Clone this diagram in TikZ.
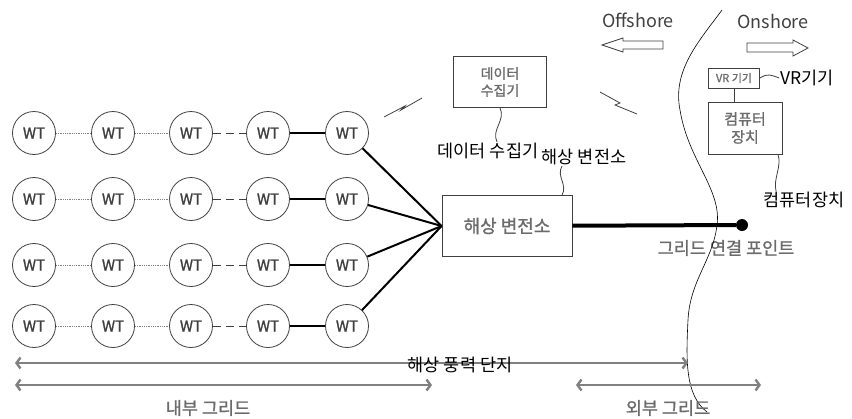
\documentclass[tikz,border=0pt]{standalone}
\usepackage{fontspec}
\setmainfont{Noto Sans CJK KR}
\newfontfamily\heavy[FakeBold=1.2]{Noto Sans CJK KR}
\usetikzlibrary{arrows.meta}
\definecolor{ink}{gray}{0.25}
\definecolor{faint}{gray}{0.42}
\begin{document}
\begin{tikzpicture}[x=1pt,y=-1pt,
    wt/.style={circle,draw=ink,thick,minimum size=43pt,inner sep=0pt,text=ink,font=\heavy\fontsize{15}{15}\selectfont},
    box/.style={draw=ink,thick,align=center,text=faint,inner sep=0pt},
    glabel/.style={text=faint,font=\heavy\fontsize{17.5}{20}\selectfont},
    blabel/.style={text=black,font=\fontsize{17.5}{20}\selectfont,inner sep=1pt},
    weak/.style={gray,thick,densely dotted},
    gap/.style={ink,thick,dash pattern=on 8pt off 5pt},
    cable/.style={black,line width=2pt},
    dimline/.style={{Straight Barb[length=4pt,width=11pt]}-{Straight Barb[length=4pt,width=11pt]},gray,line width=2.4pt},
    wire/.style={ink,thick}]
  \useasboundingbox (0,0) rectangle (852,418);
  % turbines
  \foreach \rw/\yy in {1/133,2/199,3/265,4/326}
    \foreach \cl/\xx in {1/34,2/113,3/191,4/268,5/347}
      \node[wt] (wt\rw\cl) at (\xx,\yy) {WT};
  % substation and grid point
  \node[box,minimum width=130pt,minimum height=61pt,font=\heavy\fontsize{18}{20}\selectfont] (sub) at (507,226) {해상 변전소};
  \node[circle,fill=black,inner sep=0pt,minimum size=12pt] (gcp) at (742,225) {};
  \draw[line width=4pt] (sub) -- (gcp);
  \node[glabel] (gcplabel) at (726,248) {그리드 연결 포인트};
  \foreach \rw in {1,...,4} {
    \draw[weak] (wt\rw1) -- (wt\rw2);
    \draw[weak] (wt\rw2) -- (wt\rw3);
    \draw[gap] (wt\rw3) -- (wt\rw4);
    \draw[cable] (wt\rw4) -- (wt\rw5);
    \draw[cable] (wt\rw5) -- (sub.west);
  }
  % data collector
  \node[box,minimum width=93pt,minimum height=51pt,font=\heavy\fontsize{14}{17}\selectfont] (dc) at (500,82) {데이터\\수집기};
  \node[blabel] (dclabel) at (488,151) {데이터 수집기};
  \draw[wire] (dc.south) .. controls +(6,12) and +(-6,-12) .. ([xshift=9pt]dclabel.north);
  \node[blabel] (sublabel) at (584,157) {해상 변전소};
  \draw[wire] ([xshift=55pt]sub.north) .. controls +(6,-10) and +(-6,10) .. ([xshift=-22pt]sublabel.south);
  % wireless links
  \draw[wire] (384,117) -- (405,106) -- (401,110) -- (422,98);
  \draw[wire] (600,92) -- (620,103) -- (615,105) -- (637,114);
  % shore
  \node[text=ink,font=\fontsize{18}{20}\selectfont] (off) at (638,20) {Offshore};
  \node[text=ink,font=\fontsize{18}{20}\selectfont] (on) at (773,21) {Onshore};
  \draw[ink,thick] (663,41) -- (623,41) -- (623,38) -- (602,45) -- (623,52) -- (623,49) -- (663,49) -- cycle;
  \draw[ink,thick] (747,43) -- (793,43) -- (793,40) -- (808,48) -- (793,56) -- (793,52) -- (747,52) -- cycle;
  \draw[black,semithick] (722,10) .. controls (700,40) and (672,70) .. (680,110)
    .. controls (688,160) and (722,190) .. (717,225)
    .. controls (713,260) and (690,280) .. (688,320)
    .. controls (686,360) and (685,395) .. (707,412);
  % onshore devices
  \node[box,minimum width=51pt,minimum height=20pt,font=\heavy\fontsize{11}{12}\selectfont] (vr) at (734,78) {VR 기기};
  \node[box,minimum width=74pt,minimum height=52pt,font=\heavy\fontsize{15}{18}\selectfont] (comp) at (745,128) {컴퓨터\\장치};
  \draw[wire] (vr.south) -- (vr.south |- comp.north);
  \node[blabel] (vrlabel) at (807,78) {VR기기};
  \draw[wire] (vr.east) .. controls +(8,-5) and +(-8,-3) .. (vrlabel.west);
  \node[blabel] (complabel) at (804,200) {컴퓨터장치};
  \draw[wire] ([xshift=33pt]comp.south) .. controls +(4,12) and +(-3,-12) .. ([xshift=-28pt]complabel.north);
  % extents
  \coordinate (farmL) at (15,363);
  \coordinate (farmR) at (688,363);
  \coordinate (innerL) at (15,385);
  \coordinate (innerR) at (432,385);
  \coordinate (outerL) at (576,385);
  \coordinate (outerR) at (761,385);
  \draw[dimline] (farmL) -- (farmR);
  \draw[dimline] (innerL) -- (innerR);
  \draw[dimline] (outerL) -- (outerR);
  \node[blabel] (farmlabel) at (460,365) {해상 풍력 단지};
  \node[glabel] (innerlabel) at (208,408) {내부 그리드};
  \node[glabel] (outerlabel) at (668,408) {외부 그리드};
\end{tikzpicture}
\end{document}
